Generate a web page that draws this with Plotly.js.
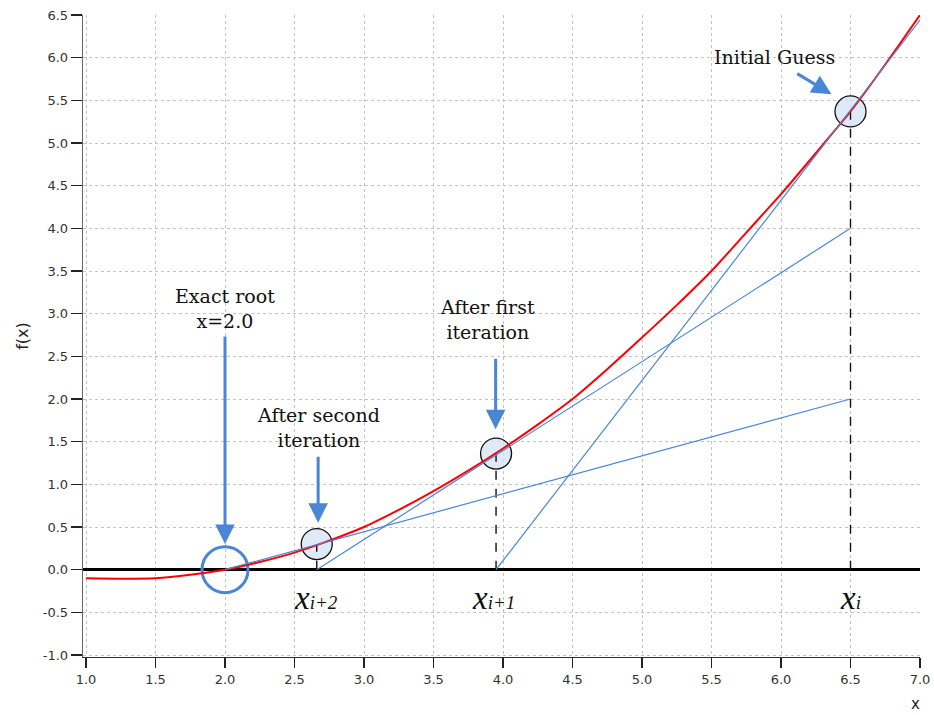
<!DOCTYPE html>
<html>
<head>
<meta charset="utf-8">
<script src="https://cdn.plot.ly/plotly-3.0.1.min.js"></script>
<style>html,body{margin:0;padding:0;background:#fff;}#chart{width:934px;height:715px;}</style>
</head>
<body>
<div id="chart"></div>
<script>
// f(x) curve
const curveX = [1.0, 1.25, 1.5, 1.75, 2.0, 2.25, 2.5, 2.75, 3.0, 3.25, 3.5, 3.75, 4.0, 4.25, 4.5, 4.75, 5.0, 5.25, 5.5, 5.75, 6.0, 6.25, 6.5, 6.75, 7.0];
const curveY = [-0.1, -0.105, -0.1, -0.06, 0.0, 0.09, 0.2, 0.34, 0.5, 0.7, 0.92, 1.16, 1.42, 1.7, 2.0, 2.35, 2.72, 3.1, 3.5, 3.95, 4.4, 4.88, 5.37, 5.92, 6.5];

// Newton iterates
const iterX = [6.5, 3.95, 2.66];
const iterY = [5.37, 1.36, 0.3];
const rootX = [2.0];
const rootY = [0.0];

// tangent lines (start, end)
const tan1X = [3.95, 7.0], tan1Y = [0.0, 6.44];
const tan2X = [2.66, 6.5], tan2Y = [0.0, 4.0];
const tan3X = [2.0, 6.5],  tan3Y = [0.0, 2.0];

const xTicks = [1.0, 1.5, 2.0, 2.5, 3.0, 3.5, 4.0, 4.5, 5.0, 5.5, 6.0, 6.5, 7.0];
const yTicks = [-1.0, -0.5, 0.0, 0.5, 1.0, 1.5, 2.0, 2.5, 3.0, 3.5, 4.0, 4.5, 5.0, 5.5, 6.0, 6.5];

const labelText = ['x', 'x', 'x'];
const labelSub = ['i', 'i+1', 'i+2'];

const blue = '#4a86d6';
const traces = [];

// marker circles (drawn first, lines on top)
traces.push({x: iterX, y: iterY, mode: 'markers', type: 'scatter', hoverinfo: 'skip',
  marker: {size: 31, color: 'rgba(214,226,243,0.75)', line: {color: '#111', width: 1.3}}});
traces.push({x: rootX, y: rootY, mode: 'markers', type: 'scatter', hoverinfo: 'skip',
  marker: {size: 46, color: 'rgba(0,0,0,0)', line: {color: blue, width: 3}}});

// dashed verticals
for (let i = 0; i < iterX.length; i++) {
  traces.push({x: [iterX[i], iterX[i]], y: [0, iterY[i]], mode: 'lines', type: 'scatter', hoverinfo: 'skip',
    line: {color: '#111', width: 1.4, dash: 'dash'}});
}

// red curve
traces.push({x: curveX, y: curveY, mode: 'lines', type: 'scatter', hoverinfo: 'skip',
  line: {color: '#ff0000', width: 2, shape: 'spline', smoothing: 0.6}});

// tangents
[[tan1X, tan1Y], [tan2X, tan2Y], [tan3X, tan3Y]].forEach(function (t) {
  traces.push({x: t[0], y: t[1], mode: 'lines', type: 'scatter', hoverinfo: 'skip',
    line: {color: blue, width: 1.2}});
});

const serif = 'DejaVu Serif';
const txtFont = {family: serif, size: 19, color: '#111'};

const annotations = [
  {x: 2.0, y: 3.06, text: 'Exact root<br>x=2.0', showarrow: false, font: txtFont, xanchor: 'center', yanchor: 'middle'},
  {x: 2.676, y: 1.666, text: 'After second<br>iteration', showarrow: false, font: txtFont, xanchor: 'center', yanchor: 'middle'},
  {x: 3.89, y: 2.926, text: 'After first<br>iteration', showarrow: false, font: txtFont, xanchor: 'center', yanchor: 'middle'},
  {x: 5.95, y: 6.008, text: 'Initial Guess', showarrow: false, font: txtFont, xanchor: 'center', yanchor: 'middle'},
  // arrows
  {x: 2.0, y: 0.30, ax: 2.0, ay: 2.75, axref: 'x', ayref: 'y', text: '', showarrow: true, arrowhead: 2, arrowsize: 1.3, arrowwidth: 3, arrowcolor: blue},
  {x: 2.67, y: 0.55, ax: 2.67, ay: 1.34, axref: 'x', ayref: 'y', text: '', showarrow: true, arrowhead: 2, arrowsize: 1.3, arrowwidth: 3, arrowcolor: blue},
  {x: 3.947, y: 1.645, ax: 3.947, ay: 2.49, axref: 'x', ayref: 'y', text: '', showarrow: true, arrowhead: 2, arrowsize: 1.3, arrowwidth: 3, arrowcolor: blue},
  {x: 6.363, y: 5.571, ax: 6.106, ay: 5.824, axref: 'x', ayref: 'y', text: '', showarrow: true, arrowhead: 2, arrowsize: 1.3, arrowwidth: 3, arrowcolor: blue},
  // axis title x
  {xref: 'paper', yref: 'paper', x: 0.995, y: -0.0735, text: 'x', showarrow: false, xanchor: 'center', yanchor: 'middle',
    font: {family: 'DejaVu Sans', size: 15, color: '#222'}}
];

// x_i labels
const labelPosX = [6.5, 3.93, 2.655];
const labelPosY = [-0.33, -0.33, -0.33];
for (let i = 0; i < labelText.length; i++) {
  annotations.push({x: labelPosX[i], y: labelPosY[i], showarrow: false, xanchor: 'center', yanchor: 'middle',
    text: '<i>' + labelText[i] + '</i><span style="font-size:19px"><i>' + labelSub[i] + '</i></span>',
    font: {family: 'Liberation Serif', size: 33, color: '#111'}});
}

const layout = {
  width: 934, height: 715,
  margin: {l: 83, r: 14, t: 15, b: 58, pad: 0},
  paper_bgcolor: '#fff', plot_bgcolor: '#fff',
  showlegend: false,
  xaxis: {
    range: [0.9784, 7.0], tickvals: xTicks, ticktext: xTicks.map(v => v.toFixed(1)),
    showgrid: true, gridcolor: '#c4c4c4', griddash: 'dot', gridwidth: 1,
    zeroline: false, showline: true, linecolor: '#333', linewidth: 1.3,
    ticks: 'outside', ticklen: 10, tickwidth: 1.3, tickcolor: '#222',
    tickfont: {family: 'DejaVu Sans', size: 13, color: '#333'}, fixedrange: true
  },
  yaxis: {
    range: [-1.0234, 6.5], tickvals: yTicks, ticktext: yTicks.map(v => v.toFixed(1)),
    showgrid: true, gridcolor: '#c4c4c4', griddash: 'dot', gridwidth: 1,
    zeroline: true, zerolinecolor: '#000', zerolinewidth: 3,
    showline: true, linecolor: '#666', linewidth: 1.3,
    ticks: 'outside', ticklen: 11, tickwidth: 1.3, tickcolor: '#222',
    tickfont: {family: 'DejaVu Sans', size: 13, color: '#333'},
    title: {text: 'f(x)', font: {family: 'DejaVu Sans', size: 16, color: '#222'}, standoff: 10},
    fixedrange: true
  },
  annotations: annotations
};

Plotly.newPlot('chart', traces, layout, {displayModeBar: false, staticPlot: true});
</script>
</body>
</html>
